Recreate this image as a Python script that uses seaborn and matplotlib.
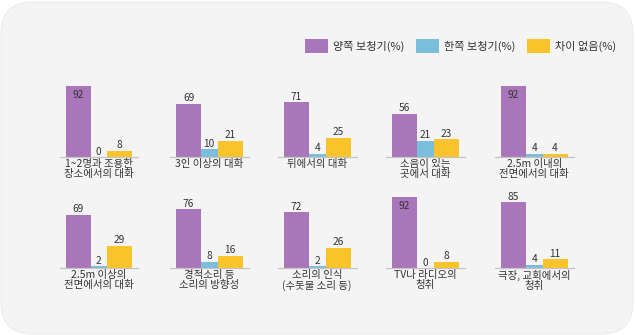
import matplotlib
matplotlib.use("Agg")
import matplotlib.pyplot as plt
from matplotlib.patches import FancyBboxPatch, Patch
import seaborn as sns
import pandas as pd

series = ["양쪽 보청기(%)", "한쪽 보청기(%)", "차이 없음(%)"]
colors = ["#a876b9", "#7bbedb", "#f9c42b"]

categories = [
    "1~2명과 조용한\n장소에서의 대화",
    "3인 이상의 대화",
    "뒤에서의 대화",
    "소음이 있는\n곳에서 대화",
    "2.5m 이내의\n전면에서의 대화",
    "2.5m 이상의\n전면에서의 대화",
    "경적소리 등\n소리의 방향성",
    "소리의 인식\n(수돗물 소리 등)",
    "TV나 라디오의\n청취",
    "극장, 교회에서의\n청취",
]
both = [92, 69, 71, 56, 92, 69, 76, 72, 92, 85]
one = [0, 10, 4, 21, 4, 2, 8, 2, 0, 4]
none_ = [8, 21, 25, 23, 4, 29, 16, 26, 8, 11]

W, H = 635, 335
sns.set_theme(style="white")
plt.rcParams["font.family"] = ["Noto Sans CJK KR", "DejaVu Sans"]

fig = plt.figure(figsize=(W / 100, H / 100), dpi=100)
fig.patch.set_facecolor("white")
bg = FancyBboxPatch((1 / W, 1 / H), (W - 3) / W, (H - 3) / H,
                    boxstyle="round,pad=0,rounding_size=0.05",
                    transform=fig.transFigure, facecolor="#f4f4f4",
                    edgecolor="#ececec", linewidth=0.8, mutation_aspect=W / H,
                    zorder=-10)
fig.patches.append(bg)

lefts = [65.5, 176, 284, 392, 501]
baselines = [157, 268]
px_unit = 25.0         # px per x unit
px_val = 0.775         # px per value unit
ymax = 100
ax_w = 3.14 * px_unit
ax_h = ymax * px_val
blue_w = 0.66

for i, cat in enumerate(categories):
    row, col = divmod(i, 5)
    left_px = lefts[col] - 6
    base_px = baselines[row]
    ax = fig.add_axes([left_px / W, (H - base_px) / H, ax_w / W, ax_h / H])
    ax.set_facecolor("none")
    df = pd.DataFrame({"s": series, "v": [both[i], one[i], none_[i]]})
    sns.barplot(data=df, x="s", y="v", hue="s", palette=colors, order=series,
                hue_order=series, width=1.0, legend=False, ax=ax,
                linewidth=0, saturation=1)
    pats = sorted([p for p in ax.patches], key=lambda p: p.get_x())
    # narrower middle bar, bars adjacent
    pats[1].set_width(blue_w)
    pats[2].set_x(0.5 + blue_w)
    ax.set_xlim(-0.74, 2.40)
    ax.set_ylim(0, ymax)
    for p in pats:
        v = p.get_height()
        cx = p.get_x() + p.get_width() / 2
        if v >= 90:
            ax.annotate(f"{v:.0f}", (cx, v), xytext=(0, -3), textcoords="offset points",
                        ha="center", va="top", fontsize=7.3, color="#333333")
        else:
            ax.annotate(f"{v:.0f}", (cx, v), xytext=(0, 0.3), textcoords="offset points",
                        ha="center", va="bottom", fontsize=7.3, color="#333333")
    for s in ["top", "right", "left"]:
        ax.spines[s].set_visible(False)
    ax.spines["bottom"].set_color("#c4c4c4")
    ax.spines["bottom"].set_linewidth(0.9)
    ax.set_xticks([])
    ax.set_yticks([])
    ax.set_xlabel("")
    ax.set_ylabel("")
    ax.annotate(cat, (0.5, 0), xycoords="axes fraction", xytext=(0, -1.2),
                textcoords="offset points", ha="center", va="top",
                fontsize=7.5, color="#333333", linespacing=1.0)

handles = [Patch(facecolor=c, edgecolor="none") for c in colors]
fig.legend(handles, series, loc="upper left", bbox_to_anchor=(305 / W, 1 - 39 / H),
           ncol=3, frameon=False, fontsize=8.0, handlelength=2.1, handleheight=1.6,
           handletextpad=0.45, columnspacing=1.0, borderpad=0, borderaxespad=0,
           labelcolor="#333333")

fig.savefig("out.png", dpi=100, facecolor=fig.get_facecolor())
